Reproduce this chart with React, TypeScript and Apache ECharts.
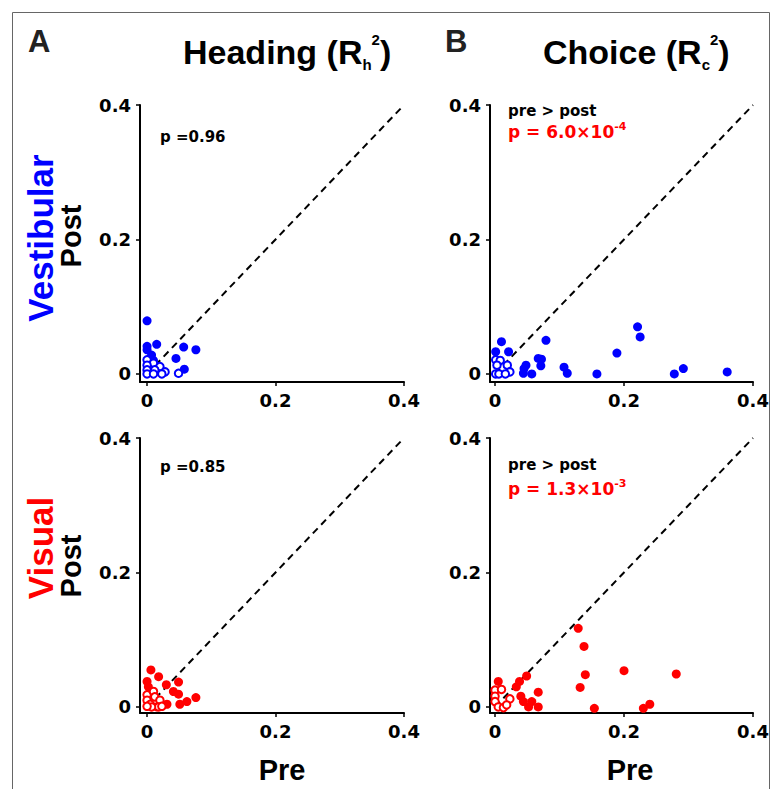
import React, { useEffect, useRef } from "react";
import * as echarts from "echarts";

const tickValues = [0, 0.2, 0.4];
const diagonal = [[0, 0], [0.4, 0.4]];

const vestHeadFilled = [[0.0, 0.079], [0.0, 0.041], [0.015, 0.044], [0.0, 0.036], [0.007, 0.028], [0.057, 0.04], [0.076, 0.036], [0.045, 0.023], [0.058, 0.007], [0.01, 0.02]];
const vestHeadOpen = [[0, 0.021], [0.01, 0.016], [0, 0.013], [0.02, 0.011], [0, 0.006], [0.012, 0.006], [0.028, 0.003], [0, 0], [0.01, 0], [0.023, 0], [0.049, 0.001]];

const vestChoiceFilled = [[0.01, 0.048], [0.001, 0.033], [0.021, 0.033], [0.079, 0.05], [0.067, 0.023], [0.072, 0.022], [0.071, 0.012], [0.048, 0.013], [0.045, 0.008], [0.044, 0.001], [0.057, 0], [0.107, 0.01], [0.112, 0.001], [0.158, 0], [0.189, 0.031], [0.221, 0.07], [0.225, 0.055], [0.278, 0], [0.292, 0.008], [0.36, 0.003]];
const vestChoiceOpen = [[0.001, 0.021], [0.008, 0.02], [0.003, 0.013], [0.019, 0.013], [0.023, 0.003], [0.001, 0], [0.006, 0], [0.016, 0]];

const visHeadFilled = [[0.006, 0.055], [0.018, 0.045], [0, 0.038], [0.03, 0.033], [0.049, 0.037], [0.049, 0.019], [0.076, 0.014], [0.062, 0.008], [0.051, 0.004], [0.031, 0.004], [0.002, 0.03], [0.041, 0.023], [0.015, 0]];
const visHeadOpen = [[0, 0.018], [0.01, 0.023], [0, 0.01], [0.012, 0.015], [0.02, 0.01], [0.005, 0.004], [0.018, 0], [0.023, 0.001], [0.007, 0], [0, 0.001]];

const visChoiceFilled = [[0.129, 0.117], [0.138, 0.09], [0.14, 0.048], [0.132, 0.029], [0.2, 0.054], [0.281, 0.049], [0.154, -0.002], [0.23, -0.002], [0.24, 0.004], [0.067, 0.022], [0.049, 0.046], [0.038, 0.038], [0.033, 0.03], [0.005, 0.038], [0.04, 0.016], [0.044, 0.008], [0.057, 0.008], [0.052, 0], [0.067, 0]];
const visChoiceOpen = [[0, 0.025], [0.01, 0.026], [0, 0.016], [0, 0.008], [0.023, 0.012], [0.005, 0], [0.013, -0.001], [0.018, 0.003]];

const BLUE = "#0000ff";
const RED = "#ff0000";
const SANS = "Liberation Sans, Arial, sans-serif";
const TICKF = "DejaVu Sans, sans-serif";

export default function App() {
  const ref = useRef<HTMLDivElement>(null);
  useEffect(() => {
    if (!ref.current) return;
    const chart = echarts.init(ref.current, null, { renderer: "svg" });

    const grids = [
      { left: 140, top: 105, width: 264, height: 277 },
      { left: 490, top: 105, width: 263, height: 277 },
      { left: 140, top: 438, width: 264, height: 275 },
      { left: 490, top: 438, width: 263, height: 275 },
    ];
    const xMins = [-0.011, -0.0078, -0.011, -0.0078];
    const yMins = [-0.012, -0.012, -0.009, -0.009];

    const fmt = (v: number) => (v === 0 ? "0" : v.toFixed(1));
    const axisCommon = {
      max: 0.4,
      axisLine: { show: true, onZero: false, lineStyle: { color: "#000", width: 2 } },
      axisTick: { show: true, customValues: tickValues, length: 4, lineStyle: { color: "#000", width: 1.5 } },
      splitLine: { show: false },
    };
    const labelStyle = { customValues: tickValues, formatter: fmt, color: "#000", fontFamily: TICKF, fontWeight: "bold", fontSize: 18, margin: 9 };
    const xAxes = grids.map((_, i) => ({ ...axisCommon, type: "value", gridIndex: i, min: xMins[i], axisLabel: labelStyle }));
    const yAxes = grids.map((_, i) => ({ ...axisCommon, type: "value", gridIndex: i, min: yMins[i], axisLabel: labelStyle }));

    const panels = [
      { filled: vestHeadFilled, open: vestHeadOpen, color: BLUE },
      { filled: vestChoiceFilled, open: vestChoiceOpen, color: BLUE },
      { filled: visHeadFilled, open: visHeadOpen, color: RED },
      { filled: visChoiceFilled, open: visChoiceOpen, color: RED },
    ];
    const series: any[] = [];
    panels.forEach((p, i) => {
      series.push({
        type: "line", xAxisIndex: i, yAxisIndex: i, data: diagonal, symbol: "none", silent: true,
        lineStyle: { color: "#000", width: 2, type: [7, 5] }, z: 1,
      });
      series.push({
        type: "scatter", xAxisIndex: i, yAxisIndex: i, data: p.filled, symbolSize: 9,
        itemStyle: { color: p.color, opacity: 1 }, z: 3,
      });
      series.push({
        type: "scatter", xAxisIndex: i, yAxisIndex: i, data: p.open, symbolSize: 7.5,
        itemStyle: { color: "#fff", borderColor: p.color, borderWidth: 2, opacity: 1 }, z: 4,
      });
    });

    const titleRich = {
      m: { fontSize: 34, fontWeight: "bold", fontFamily: SANS, fill: "#000", lineHeight: 40 },
      sub: { fontSize: 15, fontWeight: "bold", fontFamily: SANS, fill: "#000", lineHeight: 15, verticalAlign: "bottom" },
      sup: { fontSize: 15, fontWeight: "bold", fontFamily: SANS, fill: "#000", lineHeight: 15, verticalAlign: "top" },
    };
    const pRich = (c: string) => ({
      m: { fontSize: 17, fontWeight: "bold", fontFamily: TICKF, fill: c, lineHeight: 22 },
      sup: { fontSize: 11, fontWeight: "bold", fontFamily: TICKF, fill: c, lineHeight: 11, verticalAlign: "top" },
    });

    const graphic: any[] = [
      { type: "rect", shape: { x: 12.5, y: 12.5, width: 757, height: 800 }, style: { fill: "none", stroke: "#666", lineWidth: 1 }, silent: true },
      { type: "text", x: 28, y: 41, style: { text: "A", font: `bold 31px ${SANS}`, fill: "#222", verticalAlign: "middle" } },
      { type: "text", x: 445, y: 41, style: { text: "B", font: `bold 31px ${SANS}`, fill: "#222", verticalAlign: "middle" } },
      { type: "text", x: 183, y: 52, style: { text: "{m|Heading (R}{sub|h}{sup|2}{m|)}", rich: titleRich, fill: "#000", verticalAlign: "middle" } },
      { type: "text", x: 543, y: 52, style: { text: "{m|Choice (R}{sub|c}{sup|2}{m|)}", rich: titleRich, fill: "#000", verticalAlign: "middle" } },
      { type: "text", x: 40, y: 238, rotation: Math.PI / 2, style: { text: "Vestibular", font: `bold 35px ${SANS}`, fill: BLUE, align: "center", verticalAlign: "middle" } },
      { type: "text", x: 71, y: 236, rotation: Math.PI / 2, style: { text: "Post", font: `bold 29px ${SANS}`, fill: "#000", align: "center", verticalAlign: "middle" } },
      { type: "text", x: 40, y: 548, rotation: Math.PI / 2, style: { text: "Visual", font: `bold 35px ${SANS}`, fill: RED, align: "center", verticalAlign: "middle" } },
      { type: "text", x: 71, y: 566, rotation: Math.PI / 2, style: { text: "Post", font: `bold 29px ${SANS}`, fill: "#000", align: "center", verticalAlign: "middle" } },
      { type: "text", x: 282, y: 770, style: { text: "Pre", font: `bold 29px ${SANS}`, fill: "#000", align: "center", verticalAlign: "middle" } },
      { type: "text", x: 630, y: 770, style: { text: "Pre", font: `bold 29px ${SANS}`, fill: "#000", align: "center", verticalAlign: "middle" } },
      { type: "text", x: 160, y: 137, style: { text: "p =0.96", font: `bold 15px ${TICKF}`, fill: "#000", verticalAlign: "middle" } },
      { type: "text", x: 160, y: 467, style: { text: "p =0.85", font: `bold 15px ${TICKF}`, fill: "#000", verticalAlign: "middle" } },
      { type: "text", x: 508, y: 111, style: { text: "pre > post", font: `bold 15px ${TICKF}`, fill: "#000", verticalAlign: "middle" } },
      { type: "text", x: 508, y: 132, style: { text: "{m|p = 6.0×10}{sup|-4}", rich: pRich(RED), fill: RED, verticalAlign: "middle" } },
      { type: "text", x: 508, y: 465, style: { text: "pre > post", font: `bold 15px ${TICKF}`, fill: "#000", verticalAlign: "middle" } },
      { type: "text", x: 508, y: 489, style: { text: "{m|p = 1.3×10}{sup|-3}", rich: pRich(RED), fill: RED, verticalAlign: "middle" } },
    ];

    chart.setOption({
      animation: false,
      backgroundColor: "#fff",
      grid: grids.map((g) => ({ ...g, containLabel: false })),
      xAxis: xAxes,
      yAxis: yAxes,
      series,
      graphic,
    });
    return () => chart.dispose();
  }, []);
  return <div ref={ref} style={{ position: "fixed", left: 0, top: 0, width: 773, height: 789, background: "#fff" }} />;
}
